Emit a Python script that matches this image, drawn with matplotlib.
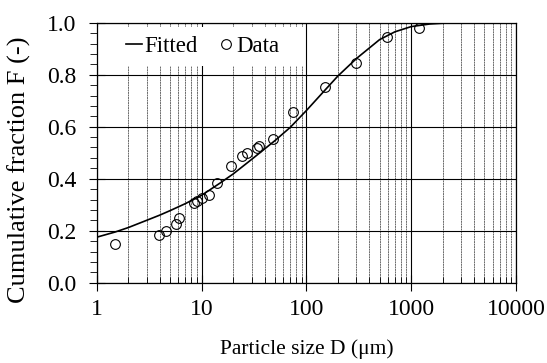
import matplotlib
matplotlib.use("Agg")
import matplotlib.pyplot as plt
from matplotlib.patches import Rectangle
from matplotlib.ticker import LogLocator, MultipleLocator, FixedLocator, FixedFormatter, NullFormatter

# ---- data ----
D_data = [1.5, 3.9, 4.6, 5.7, 6.1, 8.5, 9.1, 10.1, 11.9, 14.0, 19.1, 24.2, 27.0,
          33.6, 35.6, 47.7, 74.1, 149, 296, 593, 1190]
F_data = [0.150, 0.185, 0.200, 0.225, 0.250, 0.305, 0.315, 0.327, 0.337, 0.382,
          0.449, 0.489, 0.498, 0.517, 0.527, 0.551, 0.658, 0.751, 0.846, 0.944, 0.980]

D_fit = [1, 1.5, 2, 3, 4, 5, 7, 10, 15, 20, 30, 50, 70, 100, 150, 200, 300, 500,
         700, 1000, 1500, 2000, 3000, 5000, 10000]
F_fit = [0.175, 0.195, 0.212, 0.240, 0.260, 0.277, 0.304, 0.336, 0.383, 0.418,
         0.474, 0.546, 0.597, 0.662, 0.740, 0.795, 0.862, 0.935, 0.965, 0.985,
         0.995, 0.998, 1.0, 1.0, 1.0]

x_ticks = [1, 10, 100, 1000, 10000]
x_tick_labels = ["1", "10", "100", "1000", "10000"]
y_ticks = [0.0, 0.2, 0.4, 0.6, 0.8, 1.0]
y_tick_labels = ["0.0", "0.2", "0.4", "0.6", "0.8", "1.0"]

plt.rcParams['font.family'] = ['Liberation Serif', 'DejaVu Serif']
FS_TICK = 17
FS_LEG = 16.5

fig = plt.figure(figsize=(5.47, 3.63), dpi=100)
ax = fig.add_axes([96.7/547, 1-282.7/363, (516-96.7)/547, (282.7-22.7)/363])

ax.set_xscale('log')
ax.set_xlim(1, 10000)
ax.set_ylim(0, 1)

ax.xaxis.set_major_locator(FixedLocator(x_ticks))
ax.xaxis.set_major_formatter(FixedFormatter(x_tick_labels))
ax.xaxis.set_minor_locator(LogLocator(base=10, subs=range(2, 10), numticks=20))
ax.xaxis.set_minor_formatter(NullFormatter())
ax.yaxis.set_major_locator(FixedLocator(y_ticks))
ax.yaxis.set_major_formatter(FixedFormatter(y_tick_labels))
ax.yaxis.set_minor_locator(MultipleLocator(0.04))

ax.grid(which='major', axis='both', color='black', linewidth=0.8)
ax.grid(which='minor', axis='x', color='#6a6a6a', linewidth=0.7, linestyle=(0, (2, 0.6)))

ax.tick_params(axis='x', which='major', direction='inout', length=11, width=0.8,
               labelsize=FS_TICK, pad=6)
ax.tick_params(axis='x', which='minor', direction='in', length=4, width=0.6)
ax.tick_params(axis='y', which='major', direction='inout', length=11, width=0.8,
               labelsize=FS_TICK, pad=9)
ax.tick_params(axis='y', which='minor', direction='out', length=5, width=0.6)
for s in ax.spines.values():
    s.set_linewidth(0.9)

# white legend background
ax.add_patch(Rectangle((0.0, (282.7-66)/260), (303-96.7)/419.3, (66-27)/260,
                       transform=ax.transAxes, facecolor='white', edgecolor='none',
                       zorder=1.8))

ax.plot(D_fit, F_fit, color='black', linewidth=1.2, label='Fitted', zorder=3)
ax.plot(D_data, F_data, linestyle='none', marker='o', markersize=7,
        markerfacecolor='none', markeredgecolor='black', markeredgewidth=0.8,
        label='Data', zorder=4)

ax.legend(loc='center', bbox_to_anchor=(0.2535, 0.910), ncol=2, frameon=False,
          fontsize=FS_LEG, handlelength=0.7, handletextpad=0.1, columnspacing=0.9,
          borderpad=0, borderaxespad=0)

ax.set_xlabel('Particle size D (μm)', fontsize=15.5, labelpad=14)
ax.set_ylabel('Cumulative fraction F (-)', fontsize=19)
ax.yaxis.set_label_coords(-0.157, 0.433)

fig.savefig('out.png', dpi=100)
